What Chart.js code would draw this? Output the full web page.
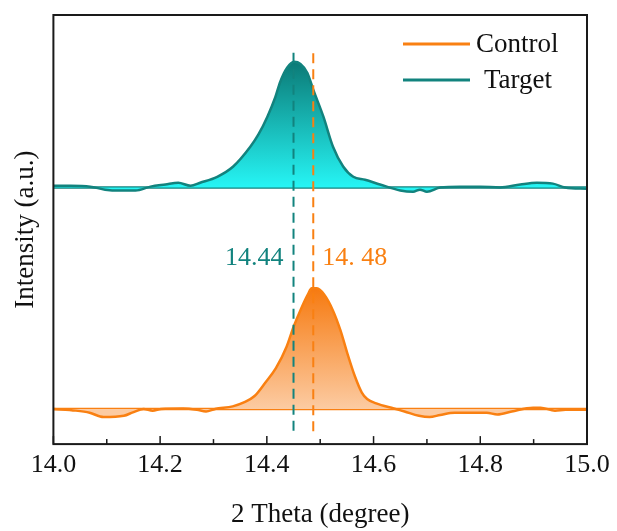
<!DOCTYPE html>
<html>
<head>
<meta charset="utf-8">
<script src="https://cdn.jsdelivr.net/npm/chart.js@4.4.0/dist/chart.umd.min.js"></script>
<style>
    html, body { margin: 0; padding: 0; background: #fff; }
    #wrap { width: 617px; height: 531px; }
</style>
</head>
<body>
<div id="wrap"><canvas id="xrdChart"></canvas></div>
<script>
// 2 theta (degree) and intensity (a.u., offset for stacking)
const targetTheta = [14.000, 14.032, 14.069, 14.097, 14.125, 14.154, 14.182, 14.210, 14.234, 14.257,
    14.275, 14.307, 14.337, 14.369, 14.384, 14.401, 14.416, 14.425, 14.438, 14.451,
    14.463, 14.476, 14.487, 14.506, 14.524, 14.543, 14.562, 14.584, 14.612, 14.650,
    14.674, 14.687, 14.700, 14.725, 14.762, 14.800, 14.837, 14.875, 14.906, 14.936,
    14.959, 15.000];
const targetIntensity = [60.2, 60.2, 60.0, 59.3, 59.1, 59.1, 60.0, 60.5, 60.9, 60.2,
    60.9, 62.3, 64.7, 69.3, 72.1, 76.3, 80.9, 84.4, 87.7, 89.1,
    88.6, 86.5, 82.6, 76.3, 69.3, 64.7, 62.3, 61.6, 60.5, 59.1,
    58.8, 59.3, 58.8, 59.8, 60.0, 60.0, 59.8, 60.5, 60.9, 60.7,
    59.8, 59.5];

const controlTheta = [14.000, 14.042, 14.068, 14.094, 14.132, 14.149, 14.169, 14.186, 14.202, 14.243,
    14.269, 14.286, 14.303, 14.336, 14.357, 14.377, 14.397, 14.417, 14.437, 14.450,
    14.464, 14.477, 14.484, 14.494, 14.507, 14.524, 14.538, 14.551, 14.565, 14.578,
    14.588, 14.605, 14.638, 14.658, 14.685, 14.705, 14.725, 14.752, 14.779, 14.812,
    14.832, 14.859, 14.899, 14.913, 14.940, 14.960, 15.000];
const controlIntensity = [8.2, 7.8, 7.3, 6.3, 6.6, 7.4, 8.2, 7.8, 8.2, 8.3,
    8.0, 7.6, 8.2, 8.8, 9.7, 11.2, 14.3, 17.7, 22.7, 27.3,
    31.5, 34.9, 36.3, 36.3, 34.9, 31.1, 26.5, 21.1, 15.8, 12.0,
    10.5, 9.5, 8.3, 7.6, 6.6, 6.3, 6.8, 7.3, 7.3, 7.3,
    6.9, 7.6, 8.5, 8.5, 7.8, 8.0, 8.0];

const seriesNames = ['Control', 'Target'];
const baselines = [8.2, 59.8];          // control, target
const peakCenters = [14.487, 14.45];    // marker positions
const peakLabels = ['14. 48', '14.44'];
const markerSpan = [3, 91.2];           // y extent of dashed markers
const labelLevel = 43.3;
const xTickLabels = ['14.0', '14.2', '14.4', '14.6', '14.8', '15.0'];

const ORANGE = '#f98012';
const TEAL = '#12837e';
const SERIF = "'Liberation Serif', 'Times New Roman', serif";

function toPoints(xs, ys) {
    return xs.map((x, i) => ({ x: x, y: ys[i] }));
}

function fillGradient(top, bottom, topColor, bottomColor) {
    return (c) => {
        const chart = c.chart;
        if (!chart.chartArea) return 'rgba(0,0,0,0)';
        const y = chart.scales.y;
        const g = chart.ctx.createLinearGradient(0, y.getPixelForValue(top), 0, y.getPixelForValue(bottom));
        g.addColorStop(0, topColor);
        g.addColorStop(1, bottomColor);
        return g;
    };
}

// frame + inward x ticks, legend and peak labels
const decorations = {
    id: 'decorations',
    afterDatasetsDraw(chart) {
        const { ctx, chartArea: a, scales } = chart;
        ctx.save();
        ctx.strokeStyle = '#1a1a1a';
        ctx.lineWidth = 2;
        ctx.strokeRect(a.left, a.top, a.right - a.left, a.bottom - a.top);

        ctx.lineWidth = 1.5;
        scales.x.ticks.forEach(t => {
            const px = scales.x.getPixelForValue(t.value);
            const major = Math.round(t.value * 10) % 2 === 0;
            ctx.beginPath();
            ctx.moveTo(px, a.bottom);
            ctx.lineTo(px, a.bottom - (major ? 8 : 5));
            ctx.stroke();
        });

        ctx.font = '26px ' + SERIF;
        ctx.textBaseline = 'middle';
        const ly = scales.y.getPixelForValue(labelLevel);
        ctx.fillStyle = ORANGE;
        ctx.textAlign = 'left';
        ctx.fillText(peakLabels[0], scales.x.getPixelForValue(peakCenters[0]) + 9, ly);
        ctx.fillStyle = TEAL;
        ctx.textAlign = 'right';
        ctx.fillText(peakLabels[1], scales.x.getPixelForValue(peakCenters[1]) - 10, ly);

        ctx.font = '27px ' + SERIF;
        ctx.textAlign = 'left';
        ctx.fillStyle = '#111';
        const legendColors = [ORANGE, TEAL];
        seriesNames.forEach((name, i) => {
            const y = 44 + i * 36;
            ctx.strokeStyle = legendColors[i];
            ctx.lineWidth = 3;
            ctx.beginPath();
            ctx.moveTo(403, y);
            ctx.lineTo(470, y);
            ctx.stroke();
            ctx.fillText(name, i === 0 ? 476 : 484, y + 1);
        });
        ctx.restore();
    }
};

new Chart(document.getElementById('xrdChart'), {
    type: 'line',
    data: {
        datasets: [
            {
                label: seriesNames[0] + ' marker',
                data: toPoints([peakCenters[0], peakCenters[0]], markerSpan),
                borderColor: ORANGE, borderWidth: 2, borderDash: [10, 6],
                pointRadius: 0, fill: false, order: 0
            },
            {
                label: seriesNames[1] + ' marker',
                data: toPoints([peakCenters[1], peakCenters[1]], markerSpan.slice().reverse()),
                borderColor: TEAL, borderWidth: 2, borderDash: [10, 6],
                pointRadius: 0, fill: false, order: 0
            },
            {
                label: seriesNames[0],
                data: toPoints(controlTheta, controlIntensity),
                borderColor: ORANGE, borderWidth: 2.5,
                backgroundColor: fillGradient(Math.max(...controlIntensity), baselines[0], '#f67a10', '#fccba2'),
                fill: { value: baselines[0] },
                cubicInterpolationMode: 'monotone',
                pointRadius: 0, order: 1
            },
            {
                label: seriesNames[1],
                data: toPoints(targetTheta, targetIntensity),
                borderColor: TEAL, borderWidth: 2.5,
                backgroundColor: fillGradient(Math.max(...targetIntensity), baselines[1], '#0b7a76', '#26f5f5'),
                fill: { value: baselines[1] },
                cubicInterpolationMode: 'monotone',
                pointRadius: 0, order: 1
            },
            {
                label: seriesNames[0] + ' baseline',
                data: toPoints([14, 15], [baselines[0], baselines[0]]),
                borderColor: ORANGE, borderWidth: 2.5, pointRadius: 0, fill: false, order: 2
            },
            {
                label: seriesNames[1] + ' baseline',
                data: toPoints([14, 15], [baselines[1], baselines[1]]),
                borderColor: TEAL, borderWidth: 2.5, pointRadius: 0, fill: false, order: 2
            }
        ]
    },
    options: {
        responsive: true,
        maintainAspectRatio: false,
        animation: false,
        layout: { padding: { top: 15, right: 30, left: 10, bottom: 0 } },
        plugins: { legend: { display: false }, tooltip: { enabled: false } },
        scales: {
            x: {
                type: 'linear', min: 14, max: 15,
                grid: { display: false, drawTicks: false },
                border: { display: false },
                ticks: {
                    stepSize: 0.1, autoSkip: false, maxRotation: 0, padding: 5,
                    color: '#111', font: { family: SERIF, size: 26 },
                    callback: (v) => {
                        const k = Math.round((v - 14) * 10);
                        return k % 2 === 0 ? xTickLabels[k / 2] : '';
                    }
                },
                title: {
                    display: true, text: '2 Theta (degree)', color: '#111',
                    font: { family: SERIF, size: 27, lineHeight: 1.1 }, padding: { top: 15, bottom: 1 }
                }
            },
            y: {
                min: 0, max: 100,
                grid: { display: false, drawTicks: false },
                border: { display: false },
                ticks: { display: false },
                title: {
                    display: true, text: 'Intensity (a.u.)', color: '#111',
                    font: { family: SERIF, size: 27 }, padding: { top: 0, bottom: 11 }
                }
            }
        }
    },
    plugins: [decorations]
});
</script>
</body>
</html>
